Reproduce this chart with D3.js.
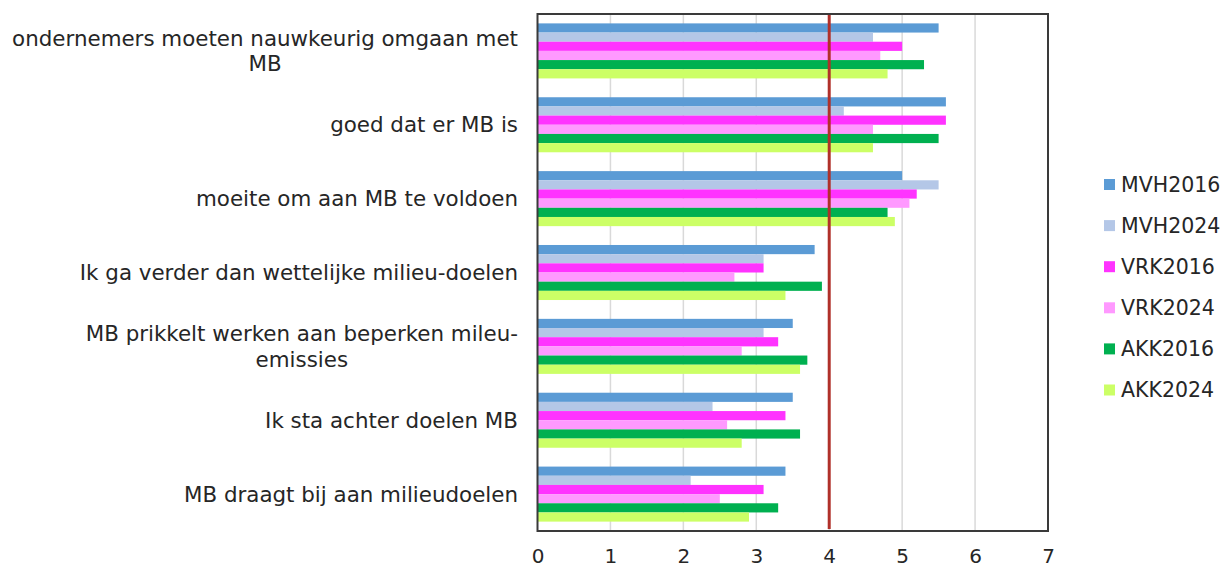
<!DOCTYPE html>
<html><head><meta charset="utf-8">
<script src="https://cdn.jsdelivr.net/npm/d3@7"></script>
<style>body{margin:0;background:#fff}svg{display:block}text{font-family:"DejaVu Sans",Verdana,sans-serif;fill:#262626}</style>
</head><body><svg id="c" width="1225" height="569"></svg>
<script>
const categories = [
  ["ondernemers moeten nauwkeurig omgaan met","MB"],
  ["goed dat er MB is"],
  ["moeite om aan MB te voldoen"],
  ["Ik ga verder dan wettelijke milieu-doelen"],
  ["MB prikkelt werken aan beperken mileu-","emissies"],
  ["Ik sta achter doelen MB"],
  ["MB draagt bij aan milieudoelen"]
];
const seriesNames = ["MVH2016","MVH2024","VRK2016","VRK2024","AKK2016","AKK2024"];
const seriesColors = ["#5b9bd5","#b4c7e7","#ff33ff","#ff99ff","#00b050","#ccff66"];
const MVH2016 = [5.5,5.6,5.0,3.8,3.5,3.5,3.4];
const MVH2024 = [4.6,4.2,5.5,3.1,3.1,2.4,2.1];
const VRK2016 = [5.0,5.6,5.2,3.1,3.3,3.4,3.1];
const VRK2024 = [4.7,4.6,5.1,2.7,2.8,2.6,2.5];
const AKK2016 = [5.3,5.5,4.8,3.9,3.7,3.6,3.3];
const AKK2024 = [4.8,4.6,4.9,3.4,3.6,2.8,2.9];
const seriesValues = [MVH2016,MVH2024,VRK2016,VRK2024,AKK2016,AKK2024];
const xTicks = [0,1,2,3,4,5,6,7];
const refValue = 4;

const svg = d3.select("#c");
const L = 537.5, R = 1048, T = 14, B = 531;
const x = d3.scaleLinear().domain([0,7]).range([L,R]);
const y = d3.scaleBand().domain(d3.range(categories.length)).range([T,B]).paddingInner(0.255).paddingOuter(0.127);
const ys = d3.scaleBand().domain(d3.range(seriesNames.length)).range([0,y.bandwidth()]);

// gridlines
svg.append("g").selectAll("line").data(xTicks.slice(1,-1)).join("line")
  .attr("x1",d=>x(d)).attr("x2",d=>x(d)).attr("y1",T).attr("y2",B)
  .attr("stroke","#d9d9d9").attr("stroke-width",1.5);

// bars
const groups = svg.append("g").selectAll("g").data(categories).join("g")
  .attr("transform",(d,i)=>`translate(0,${y(i)})`);
groups.each(function(d,i){
  d3.select(this).selectAll("rect").data(seriesValues.map((s,k)=>({k,v:s[i]}))).join("rect")
    .attr("x",x(0)).attr("y",e=>ys(e.k)).attr("height",ys.bandwidth())
    .attr("width",e=>x(e.v)-x(0)).attr("fill",e=>seriesColors[e.k]);
});

// reference line
svg.append("line").attr("x1",x(refValue)).attr("x2",x(refValue)).attr("y1",T).attr("y2",B-2)
  .attr("stroke","#b0302a").attr("stroke-width",3);

// frame
svg.append("rect").attr("x",L).attr("y",T).attr("width",R-L).attr("height",B-T)
  .attr("fill","none").attr("stroke","#3a3a3a").attr("stroke-width",2);

// x axis labels
const xa = svg.append("g").attr("transform",`translate(0,${B})`)
  .call(d3.axisBottom(x).tickValues(xTicks).tickSize(0).tickPadding(18).tickFormat(d3.format("d")));
xa.select(".domain").remove();
xa.selectAll("text").style("font-size","20px").attr("fill","#262626").attr("font-family","DejaVu Sans");

// category labels
const lh = 25.5;
categories.forEach((lines,i)=>{
  const cy = y(i)+y.bandwidth()/2;
  const t = svg.append("text").style("font-size","21.4px").attr("text-anchor","middle");
  const n = lines.length;
  const spans = lines.map((s,j)=>t.append("tspan").attr("y",cy+(j-(n-1)/2)*lh).attr("dy","0.36em").text(s));
  let maxW = 0; spans.forEach(sp=>{maxW=Math.max(maxW,sp.node().getComputedTextLength());});
  spans.forEach(sp=>sp.attr("x",518-maxW/2));
});

// legend
const lg = svg.append("g").selectAll("g").data(seriesNames).join("g")
  .attr("transform",(d,i)=>`translate(1104,${184.5+i*41.1})`);
lg.append("rect").attr("x",0).attr("y",-5.5).attr("width",11).attr("height",11).attr("fill",(d,i)=>seriesColors[i]);
lg.append("text").attr("x",17).attr("dy","0.36em").style("font-size","20.5px").text(d=>d);
</script></body></html>
